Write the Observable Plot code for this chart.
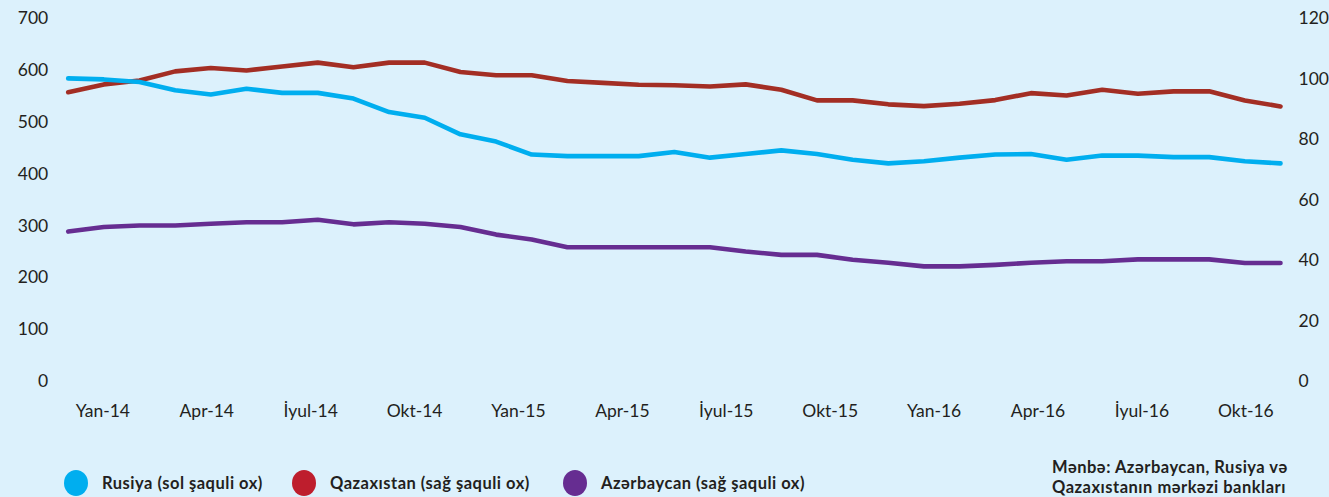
<!DOCTYPE html>
<html>
<head>
<meta charset="utf-8">
<script src="https://cdn.jsdelivr.net/npm/d3@7"></script>
<script src="https://cdn.jsdelivr.net/npm/@observablehq/plot@0.6"></script>
<style>
  html, body { margin: 0; padding: 0; background: #dcf1fc; }
  #wrap { position: relative; width: 1329px; height: 497px; background: #dcf1fc; overflow: hidden; font-family: Lato, "Open Sans", sans-serif; color: #231f20; }
  #chart { position: absolute; left: 0; top: 0; }
  .leg { position: absolute; top: 470px; height: 26px; display: flex; align-items: center; font-weight: 700; font-size: 16.5px; letter-spacing: 0.5px; }
  .dot { width: 24px; height: 26px; border-radius: 50%; margin-right: 14px; flex: none; }
  #src { position: absolute; left: 1052px; top: 457px; font-weight: 700; font-size: 16.5px; letter-spacing: 0.5px; line-height: 20px; }
</style>
</head>
<body>
<div id="wrap">
  <div id="chart"></div>
  <div id="legend"></div>
  <div id="src"></div>
</div>
<script>
// ---- data (monthly, 35 observations) ----
const tickLabels = ["Yan-14","Apr-14","İyul-14","Okt-14","Yan-15","Apr-15","İyul-15","Okt-15","Yan-16","Apr-16","İyul-16","Okt-16"];
const leftTicks = [0, 100, 200, 300, 400, 500, 600, 700];
const rightTicks = [0, 20, 40, 60, 80, 100, 120];

// Rusiya (left axis)
const russia = [585, 583, 578, 562, 554, 565, 557, 557, 546, 520, 509, 477, 463, 438, 435, 435, 435, 443,
                432, 439, 446, 439, 428, 421, 425, 432, 438, 439, 428, 436, 436, 433, 433, 425, 421];
// Qazaxıstan (right axis)
const kazakhstan = [95.7, 98.3, 99.6, 102.6, 103.7, 102.9, 104.2, 105.5, 104.0, 105.5, 105.5, 102.4, 101.3, 101.3, 99.4, 98.8, 98.2, 98.0,
                    97.6, 98.3, 96.5, 93.0, 93.0, 91.7, 91.1, 91.9, 93.1, 95.4, 94.6, 96.5, 95.2, 96.0, 96.0, 93.0, 91.0];
// Azərbaycan (right axis)
const azerbaijan = [49.6, 51.1, 51.6, 51.6, 52.2, 52.7, 52.7, 53.5, 52.0, 52.7, 52.2, 51.1, 48.6, 47.0, 44.4, 44.4, 44.4, 44.4,
                    44.4, 43.0, 41.9, 41.9, 40.3, 39.3, 38.1, 38.1, 38.6, 39.3, 39.8, 39.8, 40.4, 40.4, 40.4, 39.2, 39.2];

const seriesNames = ["Rusiya (sol şaquli ox)", "Qazaxıstan (sağ şaquli ox)", "Azərbaycan (sağ şaquli ox)"];
const lineColors = ["#00aeef", "#a32e24", "#662d91"];
const legendColors = ["#00aeef", "#be1e2d", "#662d91"];
const sourceLines = ["Mənbə: Azərbaycan, Rusiya və", "Qazaxıstanın mərkəzi bankları"];

// ---- build ----
const k = 700 / 120; // right-axis -> left-axis units
const rows = russia.map((v, i) => ({i, ru: v, kz: kazakhstan[i] * k, az: azerbaijan[i] * k}));
const nMonths = 36;
const tickPos = tickLabels.map((_, j) => (1 + 3 * j) * (russia.length - 1) / (nMonths - 1));
const labelAt = new Map(tickPos.map((p, j) => [p, tickLabels[j]]));

const lineOpts = {strokeWidth: 4.6, strokeLinecap: "round", strokeLinejoin: "round"};

const plot = Plot.plot({
  width: 1329,
  height: 425,
  marginLeft: 67.7,
  marginRight: 49,
  marginTop: 18.3,
  marginBottom: 44,
  style: {background: "transparent", fontFamily: "Lato, 'Open Sans', sans-serif", fontSize: "17.5px", color: "#231f20", overflow: "visible"},
  x: {domain: [0, russia.length - 1], axis: null},
  y: {domain: [0, 700], axis: null},
  marks: [
    Plot.axisY({anchor: "left", ticks: leftTicks, tickSize: 0, tickPadding: 20, label: null}),
    Plot.axisY({anchor: "right", ticks: rightTicks.map(v => v * k), tickFormat: v => String(Math.round(v / k)), tickSize: 0, tickPadding: 18, label: null}),
    Plot.axisX({anchor: "bottom", ticks: tickPos, tickFormat: v => labelAt.get(v), tickSize: 0, tickPadding: 23, label: null}),
    Plot.line(rows, {x: "i", y: "az", stroke: lineColors[2], ...lineOpts}),
    Plot.line(rows, {x: "i", y: "kz", stroke: lineColors[1], ...lineOpts}),
    Plot.line(rows, {x: "i", y: "ru", stroke: lineColors[0], ...lineOpts})
  ]
});
document.getElementById("chart").appendChild(plot);

// legend
const legendX = [64, 292, 563];
const legend = document.getElementById("legend");
seriesNames.forEach((name, j) => {
  const item = document.createElement("div");
  item.className = "leg";
  item.style.left = legendX[j] + "px";
  const dot = document.createElement("span");
  dot.className = "dot";
  dot.style.background = legendColors[j];
  const txt = document.createElement("span");
  txt.textContent = name;
  item.appendChild(dot);
  item.appendChild(txt);
  legend.appendChild(item);
});
document.getElementById("src").innerHTML = sourceLines.map(s => `<div>${s}</div>`).join("");
</script>
</body>
</html>
